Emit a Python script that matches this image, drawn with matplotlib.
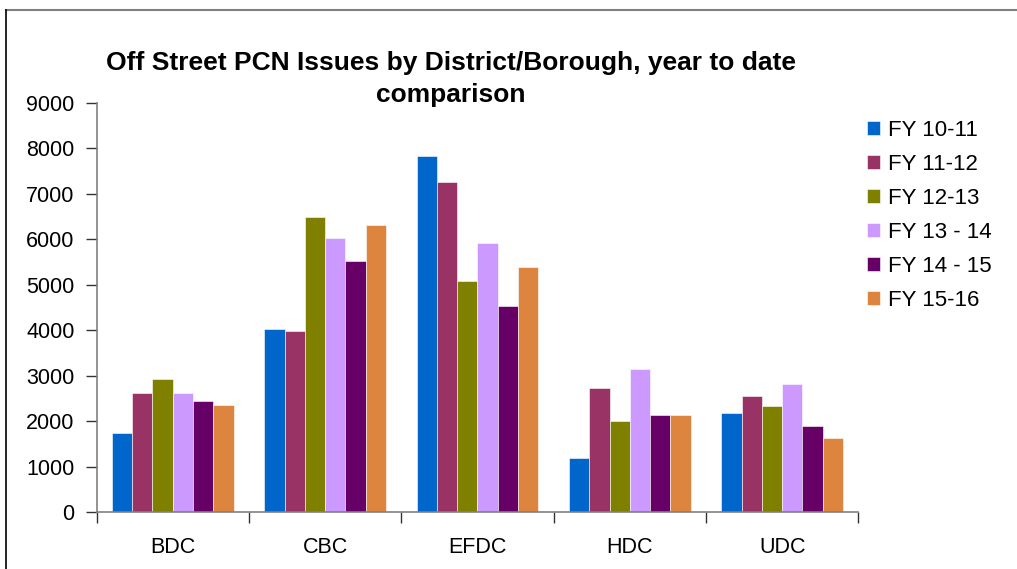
import matplotlib
matplotlib.use("Agg")
import matplotlib.pyplot as plt
import numpy as np
from matplotlib.lines import Line2D

plt.rcParams["font.family"] = ["Liberation Sans", "DejaVu Sans"]

# ---------------------------------------------------------------------------
# Data
# ---------------------------------------------------------------------------
districts = ["BDC", "CBC", "EFDC", "HDC", "UDC"]
years = ["FY 10-11", "FY 11-12", "FY 12-13", "FY 13 - 14", "FY 14 - 15", "FY 15-16"]

fy_10_11 = [1730, 4020, 7840, 1190, 2175]
fy_11_12 = [2630, 3980, 7260, 2720, 2565]
fy_12_13 = [2925, 6490, 5085, 2005, 2330]
fy_13_14 = [2615, 6030, 5915, 3145, 2820]
fy_14_15 = [2435, 5520, 4535, 2145, 1905]
fy_15_16 = [2365, 6320, 5390, 2140, 1630]

colors = ["#0066CC", "#993366", "#808000", "#CC99FF", "#660066", "#DD843F"]

# ---------------------------------------------------------------------------
# Plot
# ---------------------------------------------------------------------------
series = [fy_10_11, fy_11_12, fy_12_13, fy_13_14, fy_14_15, fy_15_16]

fig = plt.figure(figsize=(10.17, 5.69), dpi=100)
ax = fig.add_axes([0.095, 0.1, 0.749, 0.719])

x = np.arange(len(districts))
n = len(series)
width = 0.8 / n
for i, (vals, lab, col) in enumerate(zip(series, years, colors)):
    ax.bar(x - 0.4 + width * (i + 0.5), vals, width, color=col, label=lab,
           edgecolor="white", linewidth=0.4)

ax.set_xlim(-0.5, len(districts) - 0.5)
ax.set_ylim(0, 9000)
ax.set_yticks(np.arange(0, 9001, 1000))
ax.set_xticks(x)
ax.set_xticklabels(districts)
ax.set_xticks(np.arange(-0.5, len(districts)), minor=True)

for side in ("top", "right"):
    ax.spines[side].set_visible(False)
for side in ("left", "bottom"):
    ax.spines[side].set_color("#808080")
    ax.spines[side].set_linewidth(1.2)

ax.tick_params(axis="y", length=8, width=1, color="#333333", labelsize=15.5, pad=8)
ax.tick_params(axis="x", which="major", length=0, labelsize=15.5, pad=18)
ax.tick_params(axis="x", which="minor", length=8, width=1, color="#333333")

fig.text(0.443, 0.862, "Off Street PCN Issues by District/Borough, year to date\ncomparison",
         ha="center", va="center", fontsize=19, fontweight="bold", linespacing=1.42)

ax.legend(loc="upper left", bbox_to_anchor=(0.985, 1.007), frameon=False,
          fontsize=16, handlelength=0.6, handleheight=0.6, handletextpad=0.35,
          labelspacing=0.58)

# outer frame of the pasted chart (top and left only)
fig.add_artist(Line2D([0.006, 1.0], [0.983, 0.983], color="#808080", linewidth=1.5,
                      transform=fig.transFigure))
fig.add_artist(Line2D([0.006, 0.006], [0.0, 0.983], color="black", linewidth=1.2,
                      transform=fig.transFigure))

fig.savefig("out.png", dpi=100)
